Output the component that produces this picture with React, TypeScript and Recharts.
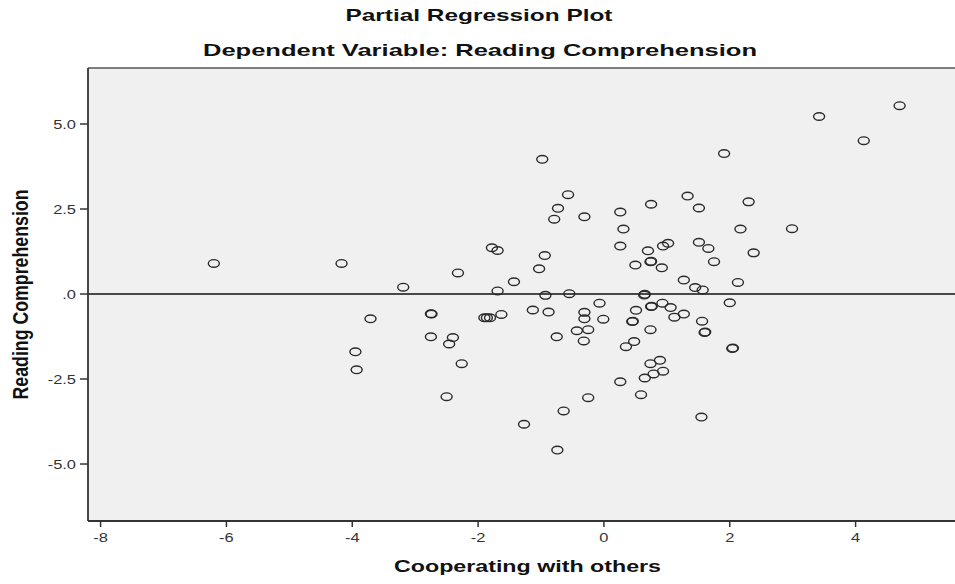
import React from "react";
import { ScatterChart, Scatter, XAxis, YAxis, CartesianGrid, ReferenceLine, Label } from "recharts";

// values (x = Cooperating with others, y = Reading Comprehension)
const X_VALUES = [
  -6.2, -4.17, -3.19, -3.71, -3.95, -3.93, -2.32, -2.74, -2.75, -2.75, -2.4, -2.46, -2.26, -2.5,
  -1.78, -1.69, -1.43, -1.69, -1.9, -1.86, -1.81, -1.63, -1.13, -1.27, -1.03, -0.98, -0.94, -0.93,
  -0.88, -0.79, -0.73, -0.57, -0.55, -0.75, -0.74, -0.64, -0.43, -0.31, -0.31, -0.31, -0.32, -0.25,
  -0.25, -0.07, -0.01, 0.26, 0.31, 0.26, 0.26, 0.35, 0.45, 0.46, 0.48, 0.5, 0.51, 0.59, 0.64, 0.65,
  0.65, 0.7, 0.74, 0.75, 0.74, 0.74, 0.75, 0.75, 0.76, 0.79, 0.89, 0.92, 0.93, 0.94, 0.94, 1.02,
  1.06, 1.12, 1.27, 1.27, 1.33, 1.45, 1.51, 1.51, 1.55, 1.56, 1.57, 1.6, 1.61, 1.66, 1.75, 1.91,
  2.0, 2.04, 2.05, 2.13, 2.17, 2.3, 2.38, 2.99, 3.42, 4.13, 4.7,
];
const Y_VALUES = [
  0.9, 0.9, 0.2, -0.73, -1.7, -2.23, 0.62, -0.59, -0.58, -1.26, -1.28, -1.47, -2.05, -3.02,
  1.36, 1.28, 0.36, 0.09, -0.7, -0.7, -0.7, -0.6, -0.47, -3.83, 0.74, 3.96, 1.13, -0.04,
  -0.53, 2.2, 2.52, 2.92, 0.01, -1.26, -4.59, -3.44, -1.08, 2.27, -0.54, -0.73, -1.38, -1.05,
  -3.05, -0.27, -0.74, 2.41, 1.91, 1.41, -2.58, -1.55, -0.81, -0.8, -1.4, 0.85, -0.48, -2.96, -0.03, -0.01,
  -2.47, 1.27, 0.95, 0.96, -1.05, -2.05, 2.64, -0.37, -0.36, -2.35, -1.95, 0.77, -0.27, 1.41, -2.27, 1.49,
  -0.4, -0.68, 0.41, -0.59, 2.88, 0.19, 2.53, 1.52, -3.62, -0.8, 0.12, -1.13, -1.12, 1.34, 0.95, 4.13,
  -0.26, -1.6, -1.59, 0.34, 1.91, 2.71, 1.21, 1.92, 5.22, 4.51, 5.54,
];

const X_TICKS = [-8, -6, -4, -2, 0, 2, 4];
const Y_TICKS = [-5, -2.5, 0, 2.5, 5];
const Y_TICK_LABELS = ["-5.0", "-2.5", ".0", "2.5", "5.0"];

const X_DOMAIN = [-8.2, 5.58];
const Y_DOMAIN = [-6.676, 6.647];

const TITLE = "Partial Regression Plot";
const SUBTITLE = "Dependent Variable: Reading Comprehension";
const X_LABEL = "Cooperating with others";
const Y_LABEL = "Reading Comprehension";

const FONT = "'Liberation Sans', Arial, Helvetica, sans-serif";

const data = X_VALUES.map((x, i) => ({ x, y: Y_VALUES[i] }));

const YTick = ({ x, y, payload }: any) => {
  const idx = Y_TICKS.indexOf(payload.value);
  return (
    <g transform={`translate(${x},${y})`}>
      <text textAnchor="end" dy={4.5} fontSize={12} fill="#333" fontFamily={FONT} transform="scale(1.37,1)">
        {idx >= 0 ? Y_TICK_LABELS[idx] : payload.value}
      </text>
    </g>
  );
};

const XTick = ({ x, y, payload }: any) => (
  <g transform={`translate(${x},${y})`}>
    <text textAnchor="middle" dy={12} fontSize={12} fill="#333" fontFamily={FONT} transform="scale(1.37,1)">
      {payload.value}
    </text>
  </g>
);

// hollow, slightly flattened circles like the SPSS output
const Ring = ({ cx, cy }: any) => (
  <ellipse cx={cx} cy={cy} rx={5.5} ry={3.8} fill="none" stroke="#2a2a2a" strokeWidth={1.4} />
);

export default function App() {
  return (
    <div style={{ position: "relative", width: 955, height: 584, background: "#fff" }}>
      <style>{"body{margin:0}"}</style>
      <ScatterChart width={955} height={584} margin={{ top: 68, right: 0, left: 0, bottom: 33 }}>
        <CartesianGrid horizontal={false} vertical={false} fill="#f0f0f0" />
        <XAxis
          type="number"
          dataKey="x"
          domain={X_DOMAIN}
          allowDataOverflow
          ticks={X_TICKS}
          interval={0}
          height={30}
          tickSize={6}
          tickMargin={3}
          tick={<XTick />}
          tickLine={{ stroke: "#333", strokeWidth: 1.5 }}
          axisLine={{ stroke: "#333", strokeWidth: 1.8 }}
        >
          <Label
            content={({ viewBox }: any) => (
              <text
                x={viewBox.x + viewBox.width / 2 + 6}
                y={572}
                textAnchor="middle"
                fontSize={16}
                fontWeight="bold"
                fontFamily={FONT}
                fill="#111"
                textLength={267}
                lengthAdjust="spacingAndGlyphs"
              >
                {X_LABEL}
              </text>
            )}
          />
        </XAxis>
        <YAxis
          type="number"
          dataKey="y"
          domain={Y_DOMAIN}
          allowDataOverflow
          ticks={Y_TICKS}
          interval={0}
          width={88}
          tickSize={8}
          tickMargin={4}
          tick={<YTick />}
          tickLine={{ stroke: "#333", strokeWidth: 1.5 }}
          axisLine={{ stroke: "#333", strokeWidth: 1.8 }}
        >
          <Label
            content={({ viewBox }: any) => (
              <text
                transform={`translate(12,${viewBox.y + viewBox.height / 2}) rotate(-90) scale(1,1.35)`}
                dy={11.5}
                textAnchor="middle"
                fontSize={16}
                fontWeight="bold"
                fontFamily={FONT}
                fill="#111"
                textLength={210}
                lengthAdjust="spacingAndGlyphs"
              >
                {Y_LABEL}
              </text>
            )}
          />
        </YAxis>
        <ReferenceLine y={Y_DOMAIN[1]} stroke="#555" strokeWidth={1.5} />
        <ReferenceLine y={0} stroke="#111" strokeWidth={1.5} />
        <Scatter data={data} shape={<Ring />} isAnimationActive={false} />
      </ScatterChart>
      <svg
        width={955}
        height={64}
        style={{ position: "absolute", left: 0, top: 0, pointerEvents: "none" }}
      >
        <g fontFamily={FONT} fontWeight="bold" fill="#111">
          <text x={479} y={21} textAnchor="middle" fontSize={17} textLength={267} lengthAdjust="spacingAndGlyphs">
            {TITLE}
          </text>
          <text x={480} y={56} textAnchor="middle" fontSize={17} textLength={554} lengthAdjust="spacingAndGlyphs">
            {SUBTITLE}
          </text>
        </g>
      </svg>
    </div>
  );
}
